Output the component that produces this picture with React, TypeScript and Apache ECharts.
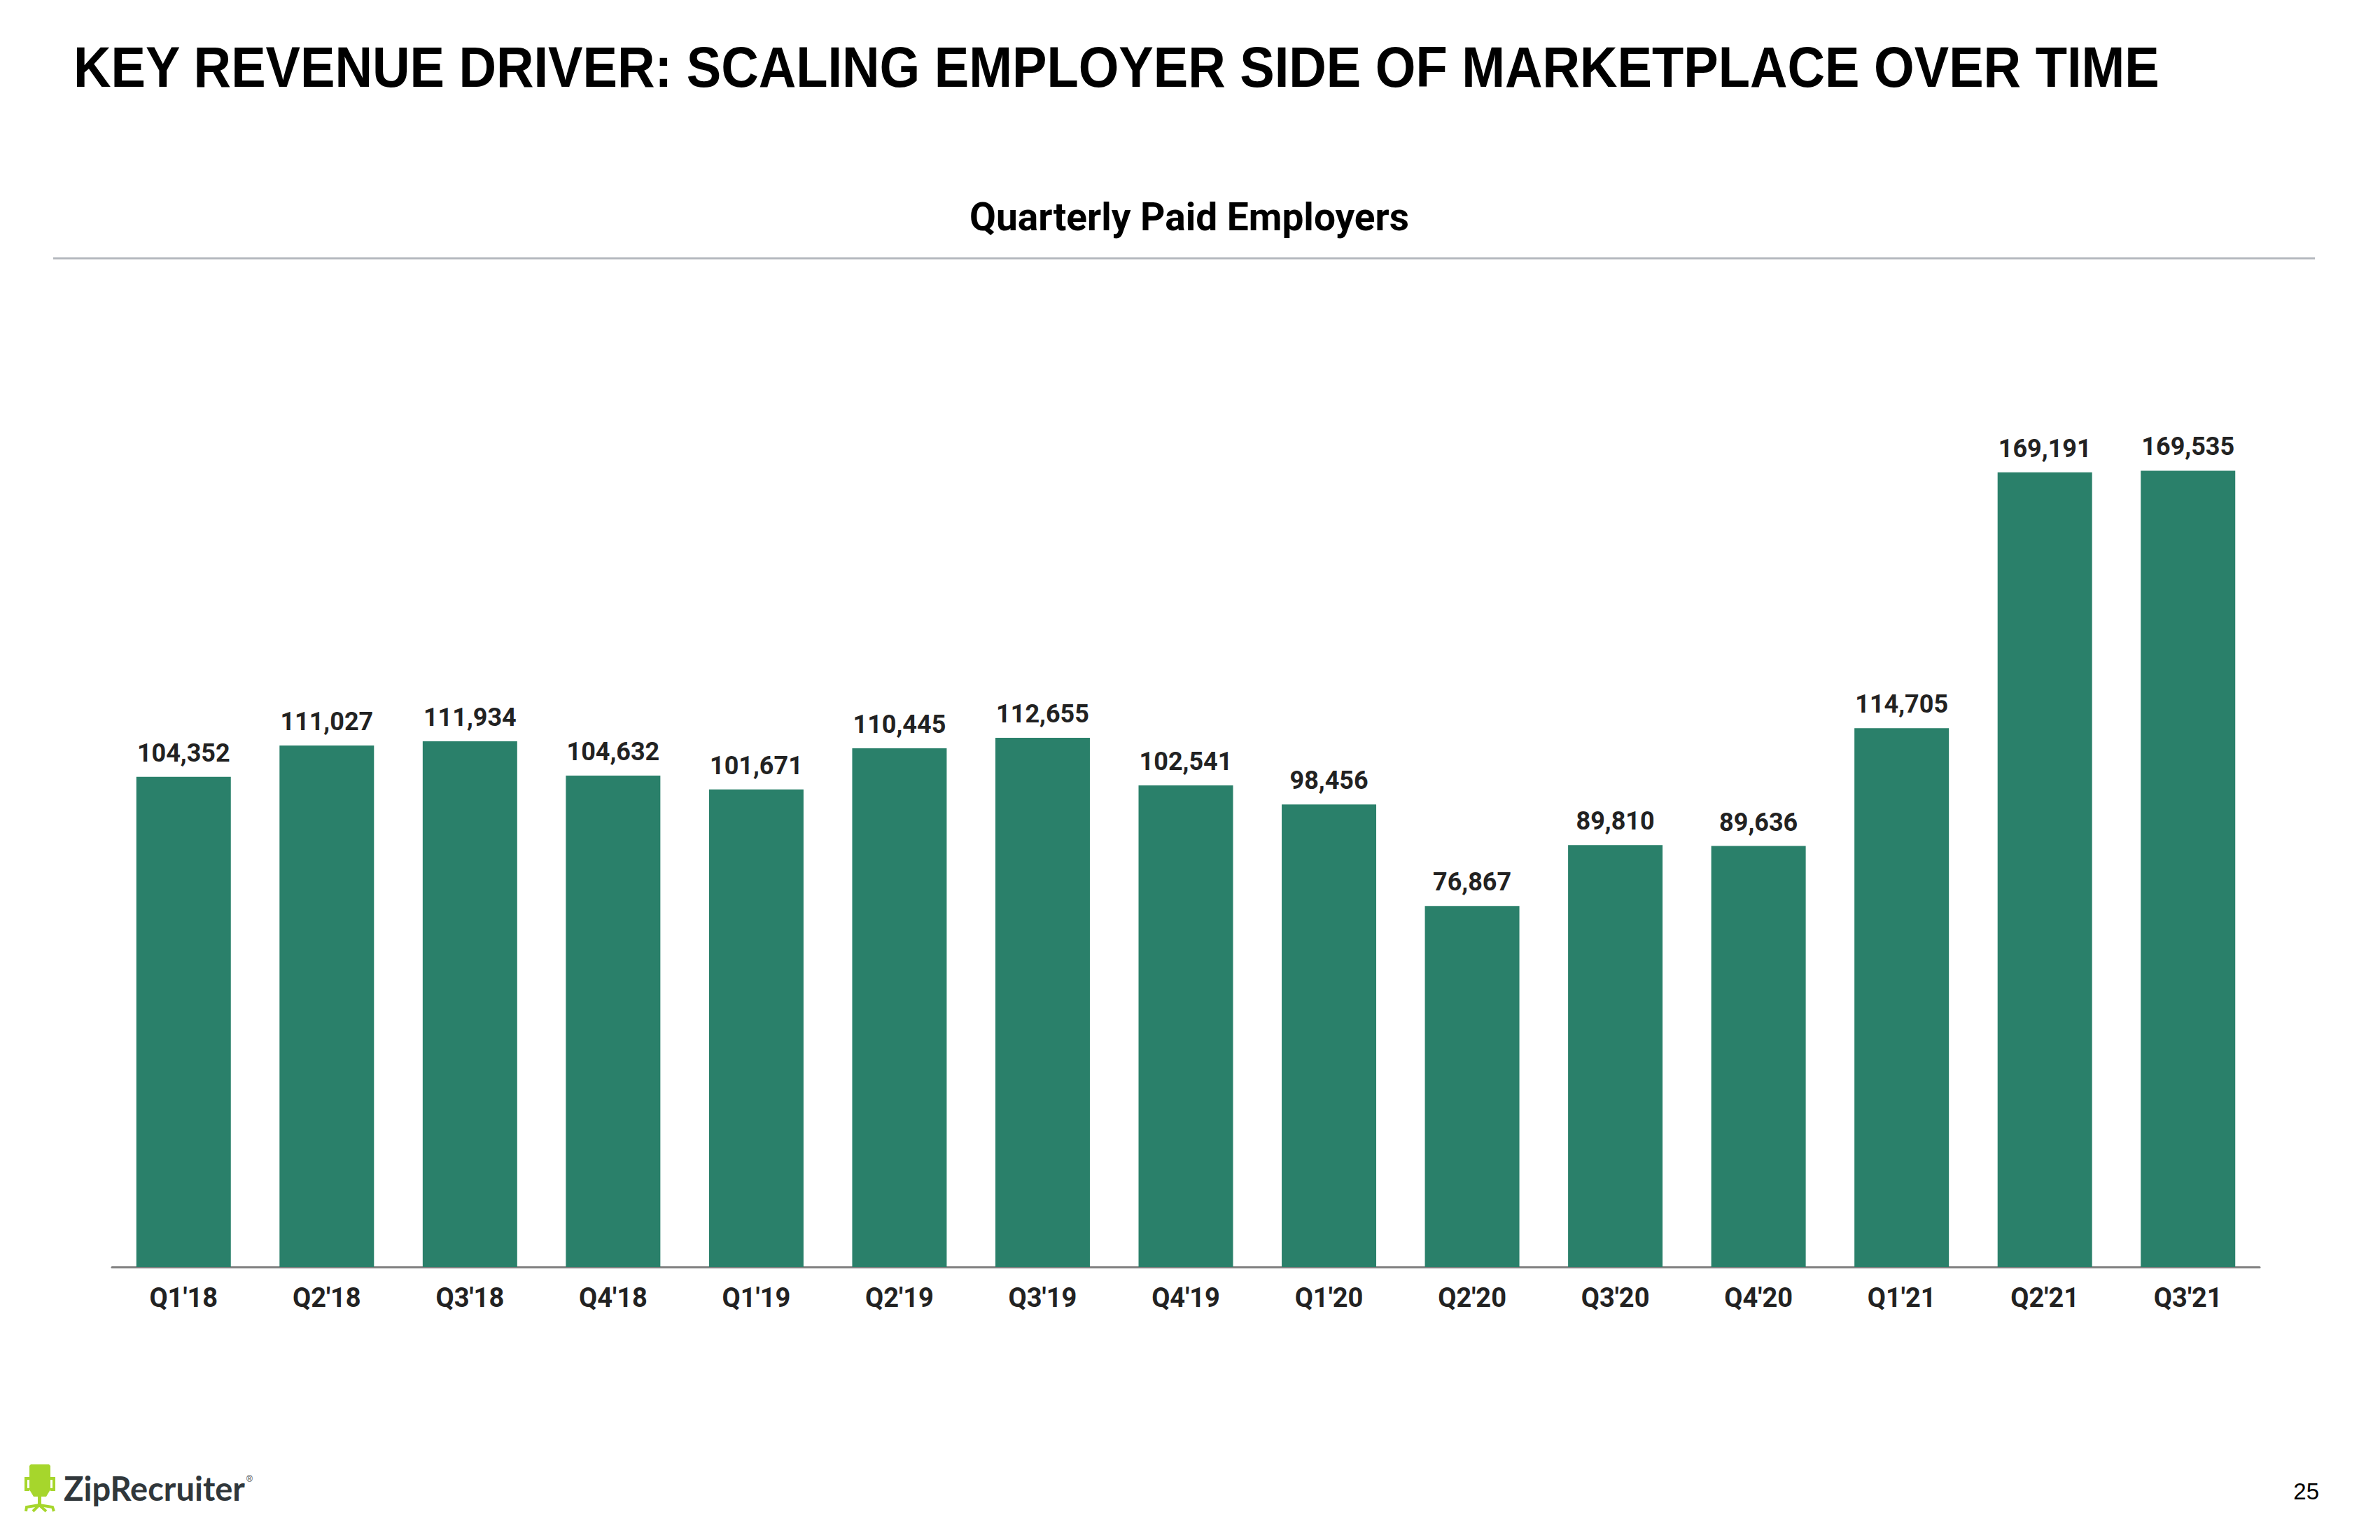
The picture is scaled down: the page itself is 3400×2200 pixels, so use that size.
import React, { useEffect, useRef } from "react";
import * as echarts from "echarts";

const categories = ["Q1'18", "Q2'18", "Q3'18", "Q4'18", "Q1'19", "Q2'19", "Q3'19", "Q4'19", "Q1'20", "Q2'20", "Q3'20", "Q4'20", "Q1'21", "Q2'21", "Q3'21"];
const paidEmployers = [104352, 111027, 111934, 104632, 101671, 110445, 112655, 102541, 98456, 76867, 89810, 89636, 114705, 169191, 169535];

const pageTitle = "KEY REVENUE DRIVER: SCALING EMPLOYER SIDE OF MARKETPLACE OVER TIME";
const chartTitle = "Quarterly Paid Employers";
const logoText = "ZipRecruiter";
const pageNumber = "25";

function measure(text: string, font: string): number {
  const c = document.createElement("canvas");
  const ctx = c.getContext("2d");
  if (!ctx) return 1;
  ctx.font = font;
  return ctx.measureText(text).width;
}

export default function App() {
  const ref = useRef<HTMLDivElement>(null);
  useEffect(() => {
    if (!ref.current) return;
    const chart = echarts.init(ref.current, undefined, { renderer: "svg" });

    const titleFont = "'Liberation Sans', Arial, sans-serif";
    const titleSize = 81;
    const titleW = measure(pageTitle, `bold ${titleSize}px ${titleFont}`);
    const titleScale = 2982 / titleW;

    const logoFont = "Lato, 'Open Sans', sans-serif";
    const logoSize = 48;
    const logoW = measure(logoText, `bold ${logoSize}px ${logoFont}`);
    const logoScale = 259 / logoW;

    const green = "#a6d62c";

    chart.setOption({
      animation: false,
      backgroundColor: "#ffffff",
      grid: { left: 160, right: 172, top: 468, bottom: 390, containLabel: false },
      xAxis: {
        type: "category",
        data: categories,
        axisLine: { show: true, lineStyle: { color: "#808080", width: 3 } },
        axisTick: { show: false },
        axisLabel: {
          margin: 25,
          fontFamily: "Roboto, sans-serif",
          fontWeight: "bold",
          fontSize: 38,
          color: "#222222",
        },
      },
      yAxis: {
        type: "value",
        min: 0,
        max: 200000,
        show: false,
        splitLine: { show: false },
      },
      series: [
        {
          type: "bar",
          data: paidEmployers,
          barCategoryGap: "34%",
          itemStyle: { color: "#2a806a" },
          label: {
            show: true,
            position: "top",
            distance: 16,
            fontFamily: "Roboto, sans-serif",
            fontWeight: "bold",
            fontSize: 36,
            color: "#222222",
            formatter: (p: any) => Number(p.value).toLocaleString("en-US"),
          },
        },
      ],
      graphic: [
        {
          type: "text",
          x: 105,
          y: 96,
          scaleX: titleScale,
          style: {
            text: pageTitle,
            fontFamily: titleFont,
            fontWeight: "bold",
            fontSize: titleSize,
            fill: "#000000",
            align: "left",
            verticalAlign: "middle",
          },
        },
        {
          type: "text",
          x: 1699,
          y: 310,
          style: {
            text: chartTitle,
            fontFamily: "Roboto, sans-serif",
            fontWeight: "bold",
            fontSize: 55,
            fill: "#000000",
            align: "center",
            verticalAlign: "middle",
          },
        },
        {
          type: "line",
          shape: { x1: 76, y1: 369, x2: 3307, y2: 369 },
          style: { stroke: "#b5b9bf", lineWidth: 3 },
        },
        {
          type: "text",
          x: 3313,
          y: 2130,
          style: {
            text: pageNumber,
            fontFamily: "'Liberation Sans', Arial, sans-serif",
            fontSize: 33,
            fill: "#000000",
            align: "right",
            verticalAlign: "middle",
          },
        },
        // logo chair
        {
          type: "polygon",
          shape: { points: [[42, 2094], [44, 2092], [70, 2092], [72, 2094], [72, 2128], [66, 2138], [48, 2138], [42, 2128]] },
          style: { fill: green },
        },
        {
          type: "polyline",
          shape: { points: [[42, 2112], [37, 2112], [37, 2128], [42, 2128]] },
          style: { stroke: green, lineWidth: 4, fill: "none" },
        },
        {
          type: "polyline",
          shape: { points: [[72, 2112], [77, 2112], [77, 2128], [72, 2128]] },
          style: { stroke: green, lineWidth: 4, fill: "none" },
        },
        {
          type: "rect",
          shape: { x: 54, y: 2136, width: 5, height: 15 },
          style: { fill: green },
        },
        {
          type: "polyline",
          shape: { points: [[37, 2159], [38, 2153], [56, 2150], [75, 2153], [77, 2159]] },
          style: { stroke: green, lineWidth: 4, fill: "none" },
        },
        {
          type: "polyline",
          shape: { points: [[47, 2159], [56, 2150], [66, 2159]] },
          style: { stroke: green, lineWidth: 4, fill: "none" },
        },
        {
          type: "text",
          x: 91,
          y: 2125,
          scaleX: logoScale,
          style: {
            text: logoText,
            fontFamily: logoFont,
            fontWeight: "bold",
            fontSize: logoSize,
            fill: "#30373b",
            align: "left",
            verticalAlign: "middle",
          },
        },
        {
          type: "text",
          x: 352,
          y: 2113,
          style: {
            text: "®",
            fontFamily: "'Liberation Sans', Arial, sans-serif",
            fontSize: 12,
            fill: "#30373b",
            align: "left",
            verticalAlign: "middle",
          },
        },
      ],
    });
    return () => chart.dispose();
  }, []);

  return (
    <div
      ref={ref}
      style={{ position: "absolute", left: 0, top: 0, width: 3400, height: 2200, background: "#ffffff" }}
    />
  );
}
